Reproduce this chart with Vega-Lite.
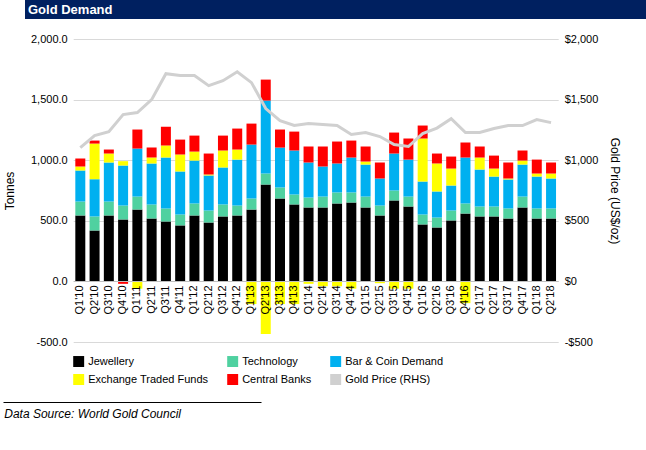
{
  "$schema": "https://vega.github.io/schema/vega-lite/v6.json",
  "padding": {"left": 0, "top": 0, "right": 2, "bottom": 2},
  "background": "white",
  "center": true,
  "config": {"font": "Liberation Sans", "view": {"stroke": null}, "concat": {"spacing": 14}},
  "resolve": {"legend": {"color": "independent"}},
  "datasets": {
    "demand": [
      {"q":"Q1'10","Jewellery":544,"Technology":115,"Bar & Coin Demand":256,"Exchange Traded Funds":33,"Central Banks":66,"p":1104},
      {"q":"Q2'10","Jewellery":420,"Technology":116,"Bar & Coin Demand":307,"Exchange Traded Funds":294,"Central Banks":25,"p":1203},
      {"q":"Q3'10","Jewellery":544,"Technology":115,"Bar & Coin Demand":322,"Exchange Traded Funds":74,"Central Banks":33,"p":1236},
      {"q":"Q4'10","Jewellery":511,"Technology":115,"Bar & Coin Demand":330,"Exchange Traded Funds":36,"Central Banks":-20,"p":1376},
      {"q":"Q1'11","Jewellery":593,"Technology":107,"Bar & Coin Demand":396,"Exchange Traded Funds":-60,"Central Banks":157,"p":1393},
      {"q":"Q2'11","Jewellery":519,"Technology":116,"Bar & Coin Demand":338,"Exchange Traded Funds":49,"Central Banks":82,"p":1500},
      {"q":"Q3'11","Jewellery":495,"Technology":107,"Bar & Coin Demand":420,"Exchange Traded Funds":99,"Central Banks":156,"p":1714},
      {"q":"Q4'11","Jewellery":462,"Technology":90,"Bar & Coin Demand":355,"Exchange Traded Funds":140,"Central Banks":123,"p":1698},
      {"q":"Q1'12","Jewellery":544,"Technology":99,"Bar & Coin Demand":354,"Exchange Traded Funds":74,"Central Banks":132,"p":1698},
      {"q":"Q2'12","Jewellery":486,"Technology":99,"Bar & Coin Demand":289,"Exchange Traded Funds":8,"Central Banks":173,"p":1615},
      {"q":"Q3'12","Jewellery":536,"Technology":99,"Bar & Coin Demand":305,"Exchange Traded Funds":140,"Central Banks":123,"p":1656},
      {"q":"Q4'12","Jewellery":544,"Technology":82,"Bar & Coin Demand":379,"Exchange Traded Funds":83,"Central Banks":173,"p":1730},
      {"q":"Q1'13","Jewellery":593,"Technology":91,"Bar & Coin Demand":445,"Exchange Traded Funds":-187,"Central Banks":173,"p":1640},
      {"q":"Q2'13","Jewellery":799,"Technology":91,"Bar & Coin Demand":602,"Exchange Traded Funds":-434,"Central Banks":173,"p":1426},
      {"q":"Q3'13","Jewellery":684,"Technology":91,"Bar & Coin Demand":329,"Exchange Traded Funds":-187,"Central Banks":149,"p":1327},
      {"q":"Q4'13","Jewellery":635,"Technology":82,"Bar & Coin Demand":363,"Exchange Traded Funds":-187,"Central Banks":156,"p":1286},
      {"q":"Q1'14","Jewellery":610,"Technology":82,"Bar & Coin Demand":289,"Exchange Traded Funds":-20,"Central Banks":132,"p":1302},
      {"q":"Q2'14","Jewellery":610,"Technology":90,"Bar & Coin Demand":248,"Exchange Traded Funds":-40,"Central Banks":165,"p":1294},
      {"q":"Q3'14","Jewellery":643,"Technology":91,"Bar & Coin Demand":239,"Exchange Traded Funds":-40,"Central Banks":181,"p":1286},
      {"q":"Q4'14","Jewellery":651,"Technology":83,"Bar & Coin Demand":288,"Exchange Traded Funds":-60,"Central Banks":140,"p":1212},
      {"q":"Q1'15","Jewellery":610,"Technology":90,"Bar & Coin Demand":264,"Exchange Traded Funds":25,"Central Banks":124,"p":1228},
      {"q":"Q2'15","Jewellery":544,"Technology":82,"Bar & Coin Demand":223,"Exchange Traded Funds":-15,"Central Banks":132,"p":1195},
      {"q":"Q3'15","Jewellery":668,"Technology":82,"Bar & Coin Demand":305,"Exchange Traded Funds":-60,"Central Banks":173,"p":1129},
      {"q":"Q4'15","Jewellery":618,"Technology":82,"Bar & Coin Demand":305,"Exchange Traded Funds":-60,"Central Banks":174,"p":1113},
      {"q":"Q1'16","Jewellery":470,"Technology":82,"Bar & Coin Demand":272,"Exchange Traded Funds":355,"Central Banks":107,"p":1220},
      {"q":"Q2'16","Jewellery":445,"Technology":82,"Bar & Coin Demand":215,"Exchange Traded Funds":231,"Central Banks":82,"p":1265},
      {"q":"Q3'16","Jewellery":503,"Technology":82,"Bar & Coin Demand":206,"Exchange Traded Funds":140,"Central Banks":99,"p":1343},
      {"q":"Q4'16","Jewellery":560,"Technology":83,"Bar & Coin Demand":379,"Exchange Traded Funds":-180,"Central Banks":124,"p":1228},
      {"q":"Q1'17","Jewellery":536,"Technology":82,"Bar & Coin Demand":305,"Exchange Traded Funds":99,"Central Banks":91,"p":1228},
      {"q":"Q2'17","Jewellery":536,"Technology":82,"Bar & Coin Demand":247,"Exchange Traded Funds":66,"Central Banks":107,"p":1261},
      {"q":"Q3'17","Jewellery":519,"Technology":83,"Bar & Coin Demand":239,"Exchange Traded Funds":8,"Central Banks":132,"p":1286},
      {"q":"Q4'17","Jewellery":610,"Technology":90,"Bar & Coin Demand":264,"Exchange Traded Funds":33,"Central Banks":83,"p":1286},
      {"q":"Q1'18","Jewellery":519,"Technology":83,"Bar & Coin Demand":263,"Exchange Traded Funds":25,"Central Banks":115,"p":1335},
      {"q":"Q2'18","Jewellery":519,"Technology":83,"Bar & Coin Demand":247,"Exchange Traded Funds":41,"Central Banks":91,"p":1310}
    ]
  },
  "vconcat": [
    {
      "width": 644,
      "height": 19,
      "view": {"fill": "#002060", "stroke": null},
      "title": {"text": "Gold Demand", "color": "white", "fontSize": 13, "fontWeight": "bold", "anchor": "start", "orient": "top", "offset": -17, "dx": 3},
      "data": {"values": [{}]},
      "mark": {"type": "point", "opacity": 0},
      "encoding": {}
    },
    {
      "width": 485,
      "height": 303,
      "data": {"name": "demand"},
      "layer": [
        {
          "transform": [
            {"fold": ["Jewellery", "Technology", "Bar & Coin Demand", "Exchange Traded Funds", "Central Banks"], "as": ["s", "v"]},
            {"calculate": "indexof(['Jewellery','Technology','Bar & Coin Demand','Exchange Traded Funds','Central Banks'], datum.s)", "as": "k"}
          ],
          "mark": {"type": "bar"},
          "encoding": {
            "x": {"field": "q", "type": "ordinal", "sort": null, "title": null,
              "scale": {"paddingInner": 0.3, "paddingOuter": 0.15},
              "axis": {"labelAngle": 270, "labelFontSize": 11, "labelColor": "#000", "offset": -61, "domainColor": "#bfbfbf", "ticks": false, "labelPadding": 4, "zindex": 1}},
            "y": {"field": "v", "type": "quantitative", "stack": "zero", "title": "Tonnes",
              "scale": {"domain": [-500, 2000], "nice": false},
              "axis": {"values": [-500, 0, 500, 1000, 1500, 2000], "labelExpr": "datum.value < 0 ? '-' + format(-datum.value, ',.1f') : format(datum.value, ',.1f')", "labelFontSize": 11, "labelColor": "#000", "titleFontSize": 12, "titleFontWeight": "normal", "titleColor": "#000", "domain": false, "ticks": false, "gridColor": "#d9d9d9", "titlePadding": 14, "labelPadding": 6}},
            "color": {"field": "s", "type": "nominal",
              "scale": {"domain": ["Jewellery", "Technology", "Bar & Coin Demand", "Exchange Traded Funds", "Central Banks", "Gold Price (RHS)"], "range": ["#000000", "#4fd1a0", "#00b0f0", "#ffff00", "#ff0000", "#d0d0d0"]},
              "legend": {"orient": "bottom", "title": null, "columns": 3, "columnPadding": 18, "labelFontSize": 11, "labelColor": "#000", "symbolType": "square", "symbolSize": 120, "labelLimit": 200, "rowPadding": 6, "offset": 14, "direction": "horizontal", "symbolStrokeWidth": 0, "padding": 0}},
            "order": {"field": "k", "type": "quantitative"}
          }
        },
        {
          "mark": {"type": "line", "strokeWidth": 3},
          "encoding": {
            "x": {"field": "q", "type": "ordinal", "sort": null},
            "y": {"field": "p", "type": "quantitative", "title": "Gold Price (US$/oz)",
              "scale": {"domain": [-500, 2000], "nice": false},
              "axis": {"orient": "right", "values": [-500, 0, 500, 1000, 1500, 2000], "grid": false, "labelExpr": "datum.value < 0 ? '-$' + format(-datum.value, ',') : '$' + format(datum.value, ',')", "labelFontSize": 11, "labelColor": "#000", "titleFontSize": 12, "titleFontWeight": "normal", "titleColor": "#000", "domain": false, "ticks": false, "titlePadding": 10, "labelPadding": 6}},
            "color": {"datum": "Gold Price (RHS)"}
          }
        }
      ],
      "resolve": {"scale": {"y": "independent"}}
    },
    {
      "width": 688,
      "height": 1,
      "title": {"text": "Data Source: World Gold Council", "orient": "bottom", "anchor": "start", "fontSize": 12, "fontStyle": "italic", "fontWeight": "normal", "offset": 4, "dx": 4},
      "data": {"values": [{"x": 0}]},
      "mark": {"type": "point", "opacity": 0},
      "encoding": {
        "x": {"field": "x", "type": "quantitative", "scale": {"domain": [0, 1], "range": [0, 258]},
          "axis": {"orient": "top", "labels": false, "ticks": false, "grid": false, "title": null, "domainColor": "#000", "domainWidth": 1}}
      }
    }
  ]
}
